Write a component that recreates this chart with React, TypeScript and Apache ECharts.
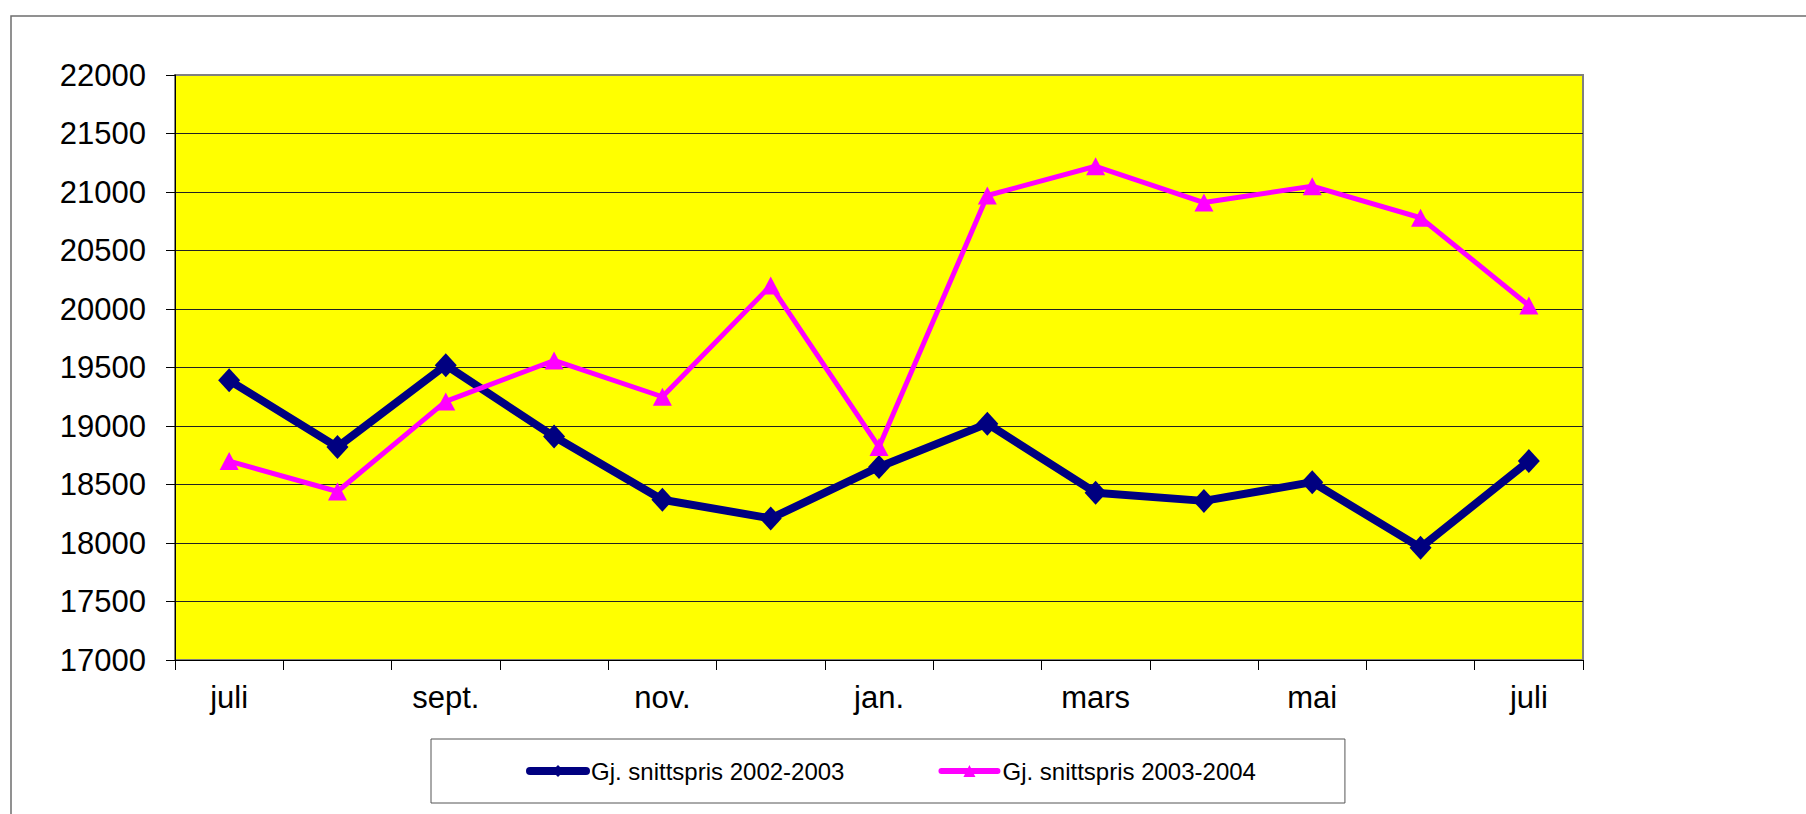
import React, { useEffect, useRef } from "react";
import * as echarts from "echarts";

const categories = ["juli", "aug.", "sept.", "okt.", "nov.", "des.", "jan.", "feb.", "mars", "april", "mai", "juni", "juli"];
const seriesNames = ["Gj. snittspris 2002-2003", "Gj. snittspris 2003-2004"];
const values2002 = [19390, 18820, 19520, 18910, 18370, 18210, 18650, 19020, 18430, 18360, 18520, 17960, 18700];
const values2003 = [18700, 18440, 19210, 19560, 19250, 20200, 18820, 20970, 21220, 20910, 21050, 20780, 20030];
const yMin = 17000;
const yMax = 22000;
const yStep = 500;

const FONT = "'Liberation Sans', Arial, sans-serif";

export default function App() {
  const ref = useRef<HTMLDivElement>(null);
  useEffect(() => {
    if (!ref.current) return;
    const chart = echarts.init(ref.current, undefined, { renderer: "svg" });
    chart.setOption({
      animation: false,
      backgroundColor: "#ffffff",
      graphic: [
        {
          type: "rect",
          shape: { x: 11, y: 16, width: 1820, height: 820 },
          style: { fill: "none", stroke: "#6e6e6e", lineWidth: 1.5 },
          silent: true,
          z: 100,
        },
      ],
      grid: {
        left: 175,
        top: 75,
        right: 223,
        bottom: 154,
        show: true,
        backgroundColor: "#FFFF00",
        borderColor: "#808080",
        borderWidth: 2,
      },
      legend: {
        left: 431,
        top: 739,
        orient: "horizontal",
        padding: [20, 89, 20, 95],
        itemWidth: 56,
        itemHeight: 15,
        itemGap: 94,
        borderColor: "#555555",
        borderWidth: 1,
        textStyle: { fontFamily: FONT, fontSize: 24, color: "#000000" },
        data: [
          { name: seriesNames[0], lineStyle: { width: 8, cap: "round" } },
          { name: seriesNames[1], lineStyle: { width: 6, cap: "round" } },
        ],
      },
      xAxis: {
        type: "category",
        data: categories,
        boundaryGap: true,
        axisLine: { show: true, lineStyle: { color: "#000000", width: 1 } },
        axisTick: { show: true, interval: 0, length: 10, lineStyle: { color: "#000000" } },
        axisLabel: { interval: 1, margin: 22, fontFamily: FONT, fontSize: 31, color: "#000000" },
        splitLine: { show: false },
      },
      yAxis: {
        type: "value",
        min: yMin,
        max: yMax,
        interval: yStep,
        axisLine: { show: true, lineStyle: { color: "#000000", width: 1 } },
        axisTick: { show: true, length: 9, lineStyle: { color: "#000000" } },
        axisLabel: {
          margin: 29,
          fontFamily: FONT,
          fontSize: 31,
          color: "#000000",
          formatter: (v: number) => String(v),
        },
        splitLine: { show: true, showMaxLine: false, lineStyle: { color: "#222222", width: 1 } },
      },
      series: [
        {
          name: seriesNames[0],
          type: "line",
          data: values2002,
          symbol: "diamond",
          symbolSize: [22, 24],
          lineStyle: { color: "#000080", width: 8 },
          itemStyle: { color: "#000080" },
          z: 3,
        },
        {
          name: seriesNames[1],
          type: "line",
          data: values2003,
          symbol: "triangle",
          symbolSize: [19, 18],
          lineStyle: { color: "#FF00FF", width: 5 },
          itemStyle: { color: "#FF00FF" },
          z: 4,
        },
      ],
    });
    return () => chart.dispose();
  }, []);
  return (
    <div
      ref={ref}
      style={{ position: "absolute", left: 0, top: 0, width: 1806, height: 814 }}
    />
  );
}
